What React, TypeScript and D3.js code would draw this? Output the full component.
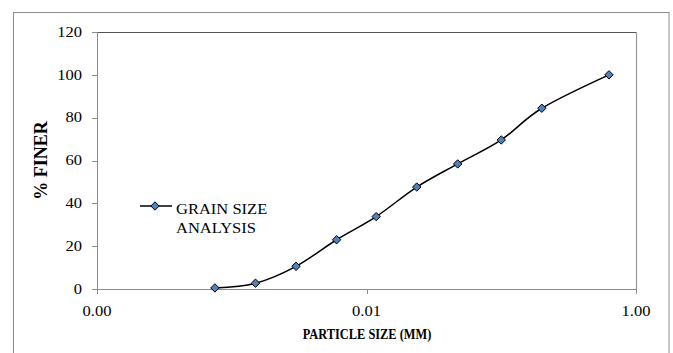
import React from "react";
import * as d3 from "d3";

const sizes = [0.00075, 0.0015, 0.003, 0.006, 0.0118, 0.0236, 0.0475, 0.1, 0.2, 0.63];
const finer = [0.5, 2.7, 10.6, 23.0, 33.8, 47.6, 58.4, 69.6, 84.4, 100];
const xTicks = [0.0001, 0.01, 1];
const xTickLabels = ["0.00", "0.01", "1.00"];
const yTicks = [0, 20, 40, 60, 80, 100, 120];
const legendLines = ["GRAIN SIZE", "ANALYSIS"];
const xTitle = "PARTICLE SIZE (MM)";
const yTitle = "% FINER";

const W = 673;
const H = 353;
const L = 97, R = 636, T = 32, B = 289;
const SX = 1.18;
const FONT = "'Liberation Serif', 'Times New Roman', serif";

export default function App() {
  const x = d3.scaleLog().domain([0.0001, 1]).range([L, R]);
  const y = d3.scaleLinear().domain([0, 120]).range([B, T]);
  const pts = sizes.map((s, i) => [x(s), y(finer[i])] as [number, number]);
  const line = d3.line().curve(d3.curveCardinal.tension(0))(pts) || "";
  const diamond = "M0,-4.2L4.2,0L0,4.2L-4.2,0Z";
  const txt = (cx: number, cy: number, anchor: string, s: string, size: number, bold = false, key?: any, sx = SX) => (
    <text key={key} transform={`translate(${cx},${cy}) scale(${sx},1)`} textAnchor={anchor} fontSize={size}
      fontWeight={bold ? "bold" : "normal"} fontFamily={FONT} fill="#000">{s}</text>
  );
  return (
    <div style={{ position: "absolute", left: 0, top: 0 }}>
      <svg width={W} height={H} style={{ display: "block", background: "#fff" }}>
        <rect x={13.5} y={12.5} width={655.5} height={345} fill="#fff" stroke="#8c8c8c" strokeWidth={1} />
        {/* plot area border */}
        <line x1={L} x2={R} y1={T + 0.5} y2={T + 0.5} stroke="#555" strokeWidth={1} />
        <line x1={R + 0.5} x2={R + 0.5} y1={T} y2={B} stroke="#999" strokeWidth={1.2} />
        {/* axes */}
        <line x1={L + 0.5} x2={L + 0.5} y1={T} y2={B + 5} stroke="#8c8c8c" />
        <line x1={L - 5} x2={R} y1={B + 0.5} y2={B + 0.5} stroke="#8c8c8c" />
        {yTicks.map((t) => (
          <g key={"y" + t}>
            <line x1={L - 5} x2={L} y1={Math.round(y(t)) + 0.5} y2={Math.round(y(t)) + 0.5} stroke="#8c8c8c" />
            {txt(82, y(t) + 4.8, "end", String(t), 14)}
          </g>
        ))}
        {xTicks.map((t, i) => (
          <g key={"x" + i}>
            <line x1={Math.round(x(t)) + 0.5} x2={Math.round(x(t)) + 0.5} y1={B} y2={B + 5} stroke="#8c8c8c" />
            {txt(x(t), 316, "middle", xTickLabels[i], 14)}
          </g>
        ))}
        {txt(367, 339, "middle", xTitle, 15.5, true, "xt", 0.8)}
        <text transform={`translate(47,${(T + B) / 2}) rotate(-90)`} textAnchor="middle" fontSize={18}
          fontWeight="bold" fontFamily={FONT}>{yTitle}</text>
        <path d={line} fill="none" stroke="#000" strokeWidth={1.5} />
        {pts.map((p, i) => (
          <path key={"m" + i} d={diamond} transform={`translate(${p[0]},${p[1]})`} fill="#4F81BD" stroke="#000" strokeWidth={1} />
        ))}
        {/* legend */}
        <line x1={140} x2={172} y1={206} y2={206} stroke="#000" strokeWidth={1.5} />
        <path d={diamond} transform="translate(155,206)" fill="#4F81BD" stroke="#000" strokeWidth={1} />
        {legendLines.map((s, i) => txt(176, 214 + i * 19, "start", s, 14, false, "l" + i))}
      </svg>
    </div>
  );
}
